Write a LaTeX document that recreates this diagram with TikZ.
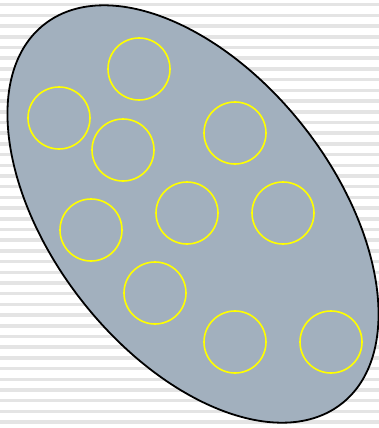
\documentclass[tikz,border=0pt]{standalone}
\usetikzlibrary{calc}
\definecolor{blobfill}{RGB}{162,176,190}
\definecolor{stripe}{RGB}{228,228,228}
\definecolor{ringcol}{RGB}{255,255,0}
\begin{document}
\begin{tikzpicture}[x=1pt,y=-1pt,
  ring/.style={circle,draw=ringcol,line width=1.6pt,minimum size=62pt,inner sep=0pt},
  blob/.style={draw=black,line width=1.8pt,fill=blobfill}]
\useasboundingbox (0,0) rectangle (379,428);
\clip (0,0) rectangle (379,428);
\fill[white] (0,0) rectangle (379,428);
\foreach \i in {0,...,40} {
  \fill[stripe] (0,{\i*10.7+3}) rectangle (379,{\i*10.7+6.5});
}
\draw[blob, rotate around={-51.9:(193,214)}] (193,214) ellipse [x radius=241, y radius=141];
\node[ring] (c1) at (139,69) {};
\node[ring] (c2) at (59,118) {};
\node[ring] (c3) at (123,150) {};
\node[ring] (c4) at (235,133) {};
\node[ring] (c5) at (91,230) {};
\node[ring] (c6) at (187,213) {};
\node[ring] (c7) at (283,213) {};
\node[ring] (c8) at (155,293) {};
\node[ring] (c9) at (235,342) {};
\node[ring] (c10) at (331,342) {};
\end{tikzpicture}
\end{document}
